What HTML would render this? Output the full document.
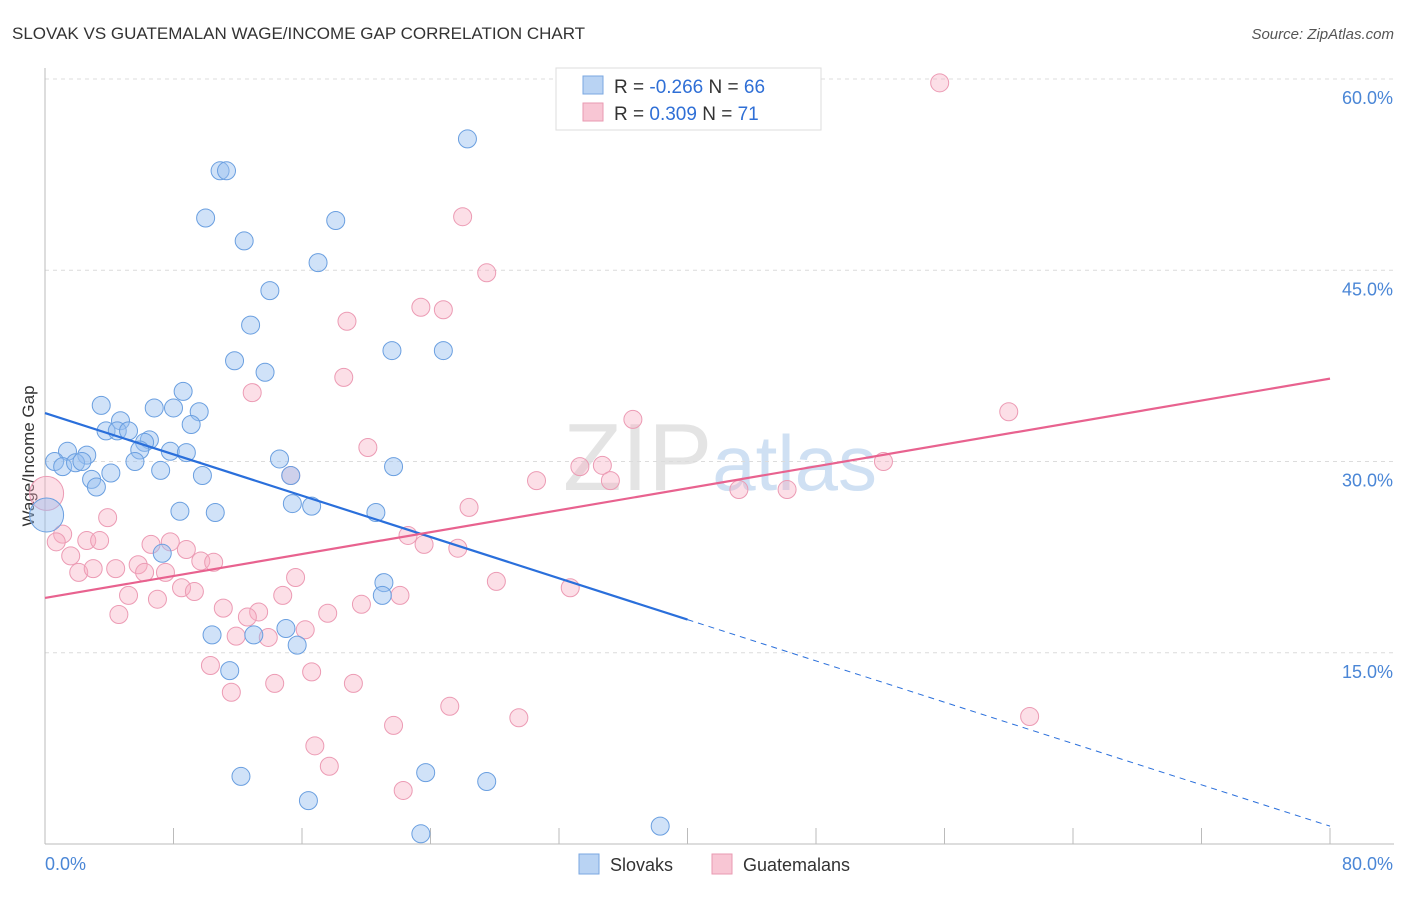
<!DOCTYPE html>
<html><head><meta charset="utf-8"><style>
body{margin:0;background:#fff;font-family:"Liberation Sans",sans-serif;}
svg text{font-family:"Liberation Sans",sans-serif;}
</style></head><body>
<svg id="chart" width="1406" height="892" xmlns="http://www.w3.org/2000/svg">
<text x="12" y="39" font-size="17" fill="#333">SLOVAK VS GUATEMALAN WAGE/INCOME GAP CORRELATION CHART</text>
<text x="1394" y="39" font-size="15" fill="#555" text-anchor="end" font-style="italic">Source: ZipAtlas.com</text>
<text x="720" y="490" font-size="96" fill="#e4e4e4" text-anchor="middle" font-family="Liberation Serif">ZIP<tspan fill="#cfe0f3" font-family="Liberation Sans" font-size="78">atlas</tspan></text>
<text transform="translate(34,456) rotate(-90)" font-size="17" fill="#333" text-anchor="middle">Wage/Income Gap</text>
<g id="grid"></g><g id="axes"></g><g id="pts"></g><g id="lines"></g>
<g>
<rect x="556" y="68" width="265" height="62" fill="#fff" stroke="#ddd"/>
<rect x="583" y="76" width="20" height="18" fill="#b9d3f3" stroke="#7aa7e0"/>
<rect x="583" y="103" width="20" height="18" fill="#f8c6d4" stroke="#e99ab2"/>
<text x="614" y="93" font-size="19" fill="#333">R = <tspan fill="#2f6fd6">-0.266</tspan>   N = <tspan fill="#2f6fd6">66</tspan></text>
<text x="614" y="120" font-size="19" fill="#333">R =  <tspan fill="#2f6fd6">0.309</tspan>   N =  <tspan fill="#2f6fd6">71</tspan></text>
</g>
<g>
<rect x="579" y="854" width="20" height="20" fill="#b9d3f3" stroke="#7aa7e0"/>
<text x="610" y="871" font-size="18" fill="#333">Slovaks</text>
<rect x="712" y="854" width="20" height="20" fill="#f8c6d4" stroke="#e99ab2"/>
<text x="743" y="871" font-size="18" fill="#333">Guatemalans</text>
</g>
</svg>
<script>
const yTicks=[15,30,45,60];
const yTickLabels=["15.0%","30.0%","45.0%","60.0%"];
const xTickLabels=["0.0%","80.0%"];
const slovakX=[26.3,10.9,11.3,10.0,18.1,12.4,17.0,14.0,12.8,21.6,24.8,11.8,13.7,8.6,3.5,6.8,8.0,9.6,4.7,9.1,3.8,4.5,5.2,6.5,6.2,5.9,7.8,8.8,1.4,2.6,0.6,1.1,1.9,2.3,5.6,4.1,7.2,14.6,21.7,9.8,2.9,3.2,15.3,15.4,16.6,8.4,10.6,20.6,0.1,7.3,21.1,21.0,10.4,13.0,15.0,15.7,11.5,12.2,23.7,27.5,16.4,23.4,38.3];
const slovakY=[55.3,52.8,52.8,49.1,48.9,47.3,45.6,43.4,40.7,38.7,38.7,37.9,37.0,35.5,34.4,34.2,34.2,33.9,33.2,32.9,32.4,32.4,32.4,31.7,31.5,30.9,30.8,30.7,30.8,30.5,30.0,29.6,29.9,30.0,30.0,29.1,29.3,30.2,29.6,28.9,28.6,28.0,28.9,26.7,26.5,26.1,26.0,26.0,25.8,22.8,20.5,19.5,16.4,16.4,16.9,15.6,13.6,5.3,5.6,4.9,3.4,0.8,1.4];
const guatX=[55.7,26.0,27.5,23.4,24.8,18.8,18.6,12.9,36.6,60.0,20.1,52.2,33.3,34.7,35.2,30.6,15.3,43.2,46.2,0.1,26.4,3.9,22.6,23.6,25.7,1.1,0.7,2.6,3.4,6.6,7.8,8.8,1.6,9.7,10.5,2.1,3.0,4.4,5.8,6.2,7.5,15.6,28.1,32.7,8.5,9.3,5.2,7.0,14.8,22.1,19.7,11.1,13.3,12.6,17.6,4.6,16.2,11.9,13.9,10.3,16.6,14.3,19.2,11.6,25.2,29.5,61.3,21.7,16.8,17.7,22.3];
const guatY=[59.7,49.2,44.8,42.1,41.9,41.0,36.6,35.4,33.3,33.9,31.1,30.0,29.6,29.7,28.5,28.5,28.9,27.8,27.8,27.5,26.4,25.6,24.2,23.5,23.2,24.3,23.7,23.8,23.8,23.5,23.7,23.1,22.6,22.2,22.1,21.3,21.6,21.6,21.9,21.3,21.3,20.9,20.6,20.1,20.1,19.8,19.5,19.2,19.5,19.5,18.8,18.5,18.2,17.8,18.1,18.0,16.8,16.3,16.2,14.0,13.5,12.6,12.6,11.9,10.8,9.9,10.0,9.3,7.7,6.1,4.2];
const slovakTrend=[33.8,1.4];
const guatTrend=[19.3,36.5];
const NS="http://www.w3.org/2000/svg";
const X=v=>45+v*(1285/80), Y=v=>844-v*12.75;
function mk(t,a,p){const e=document.createElementNS(NS,t);for(const k in a)e.setAttribute(k,a[k]);p.appendChild(e);return e;}
const grid=document.getElementById('grid'),axes=document.getElementById('axes'),pts=document.getElementById('pts'),lines=document.getElementById('lines');
yTicks.forEach((t,i)=>{
 const l=mk('line',{x1:45,x2:1394,y1:Y(t),y2:Y(t),stroke:'#dcdcdc','stroke-dasharray':'4,4'},grid);
 
 
 const tx=mk('text',{x:1393,y:Y(t)+25,'font-size':18,fill:'#4a86d6','text-anchor':'end'},axes);
 tx.textContent=yTickLabels[i];
 
 
});
mk('line',{x1:45,x2:45,y1:68,y2:844,stroke:'#bbb'},axes);
mk('line',{x1:45,x2:1394,y1:844,y2:844,stroke:'#bbb'},axes);
for(let i=1;i<=10;i++){const t=mk('line',{x1:X(i*8),x2:X(i*8),y1:828,y2:844,stroke:'#bbb'},axes);
 
 }
const xl0=mk('text',{x:45,y:870,'font-size':18,fill:'#4a86d6'},axes);xl0.textContent=xTickLabels[0];


const xl1=mk('text',{x:1393,y:870,'font-size':18,fill:'#4a86d6','text-anchor':'end'},axes);xl1.textContent=xTickLabels[1];


function dots(xs,ys,fill,stroke,name){xs.forEach((x,i)=>{const r=(x<0.5)?17:9;
 const c=mk('circle',{cx:X(x),cy:Y(ys[i]),r:r,fill:fill,stroke:stroke,'stroke-width':1},pts);
 
 });}
dots(guatX,guatY,'rgba(246,170,192,0.38)','#ec9bb4','guatemalan-point');
dots(slovakX,slovakY,'rgba(150,190,240,0.45)','#6a9fe0','slovak-point');
const sy=x=>slovakTrend[0]+(slovakTrend[1]-slovakTrend[0])*x/80;
const b1=mk('line',{x1:X(0),y1:Y(sy(0)),x2:X(40),y2:Y(sy(40)),stroke:'#2a6fdb','stroke-width':2.2},lines);


const b2=mk('line',{x1:X(40),y1:Y(sy(40)),x2:X(80),y2:Y(sy(80)),stroke:'#2a6fdb','stroke-width':1,'stroke-dasharray':'6,5'},lines);


const p1=mk('line',{x1:X(0),y1:Y(guatTrend[0]),x2:X(80),y2:Y(guatTrend[1]),stroke:'#e8628f','stroke-width':2.2},lines);


</script>
</body></html>
